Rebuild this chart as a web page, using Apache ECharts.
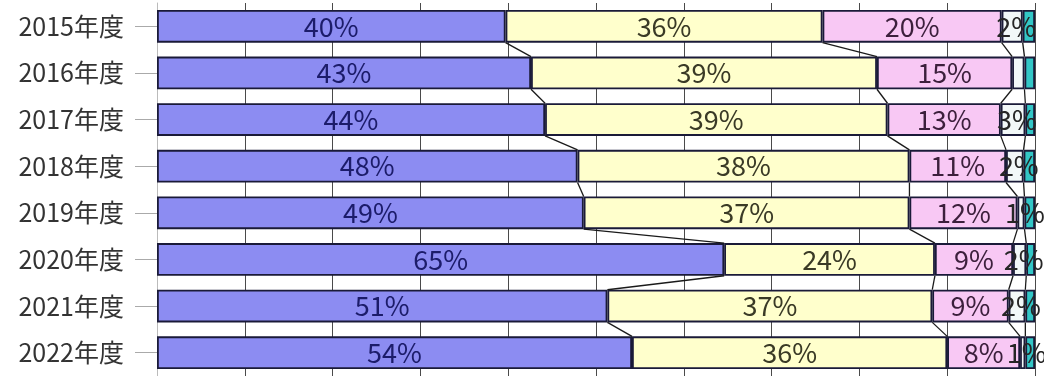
<!DOCTYPE html>
<html><head><meta charset="utf-8">
<script src="https://cdn.jsdelivr.net/npm/echarts@6/dist/echarts.min.js"></script>
<style>html,body{margin:0;padding:0;background:#fff}#c{width:1044px;height:376px}</style>
</head><body><div id="c"></div>
<script>
const categories = ['2015年度','2016年度','2017年度','2018年度','2019年度','2020年度','2021年度','2022年度'];
const blue   = [39.7, 42.6, 44.2, 47.9, 48.6, 64.6, 51.3, 54.1];
const yellow = [36.1, 39.4, 39.0, 37.8, 37.1, 24.0, 37.0, 35.9];
const pink   = [20.4, 15.4, 12.9, 11.0, 12.3,  8.9,  8.7,  8.3];
const white  = [ 2.4,  1.4,  2.8,  2.0,  0.8,  1.5,  1.9,  0.6];
const teal   = [ 1.4,  1.2,  1.1,  1.3,  1.2,  1.0,  1.1,  1.1];
const whiteLabelShown = [true, false, true, true, true, true, true, true];
const xTicks = [0,10,20,30,40,50,60,70,80,90,100];

const segs = [blue, yellow, pink, white];
const FONT = '"Noto Sans CJK JP","Noto Sans",sans-serif';
const BAR_RATIO = 0.70;

function lbl(color, show) {
  return {show: show, position: 'inside', fontSize: 27, fontFamily: FONT, color: color,
    formatter: p => Math.round(p.value) + '%'};
}
const border = {borderColor: '#1a1a38', borderWidth: 1.8};

function cum(row, k) { let s = 0; for (let j = 0; j <= k; j++) s += segs[j][row]; return s; }

const chart = echarts.init(document.getElementById('c'), null, {renderer: 'canvas'});
chart.setOption({
  animation: false,
  backgroundColor: '#ffffff',
  grid: {left: 157, top: 3, width: 878, height: 379},
  xAxis: {type: 'value', min: 0, max: 100, interval: 10,
    axisLabel: {show: false}, axisLine: {show: false}, axisTick: {show: false},
    splitLine: {show: true, lineStyle: {color: '#4a4a4a', width: 1}}},
  yAxis: {type: 'category', data: categories, inverse: true,
    axisLine: {show: true, lineStyle: {color: '#bbbbbb'}},
    axisTick: {show: true, alignWithLabel: true, length: 22, lineStyle: {color: '#aaaaaa'}},
    axisLabel: {fontSize: 25, fontFamily: FONT, color: '#333333', margin: 33}},
  series: [
    {type: 'bar', stack: 't', data: blue, barCategoryGap: '30%',
      itemStyle: Object.assign({color: '#8c8cf2'}, border), label: lbl('#1c1c6a', true)},
    {type: 'bar', stack: 't', data: yellow,
      itemStyle: Object.assign({color: '#ffffcc'}, border), label: lbl('#3a3a26', true)},
    {type: 'bar', stack: 't', data: pink,
      itemStyle: Object.assign({color: '#f8c8f4'}, border), label: lbl('#3c1f3c', true)},
    {type: 'bar', stack: 't',
      data: white.map((v, i) => ({value: v, label: {show: whiteLabelShown[i]}})),
      itemStyle: Object.assign({color: '#f2f8f8'}, border),
      label: Object.assign(lbl('#262626', true), {offset: [4, 0]})},
    {type: 'bar', stack: 't', data: teal, z: 1,
      itemStyle: Object.assign({color: '#33c6c6'}, border), label: {show: false}},
    {type: 'custom', z: 5, silent: true,
      data: categories.slice(0, categories.length - 1).map((c, i) => [0, i]),
      encode: {x: 0, y: 1},
      renderItem: function (params, api) {
        const i = params.dataIndex;
        const band = api.size([0, 1])[1];
        const half = band * BAR_RATIO / 2;
        const children = [];
        for (let k = 0; k < segs.length; k++) {
          const a = api.coord([cum(i, k), i]);
          const b = api.coord([cum(i + 1, k), i + 1]);
          children.push({type: 'line', shape: {x1: a[0], y1: a[1] + half, x2: b[0], y2: b[1] - half},
            style: {stroke: '#1a1a1a', lineWidth: 1.3}});
        }
        return {type: 'group', children: children};
      }}
  ]
});
</script></body></html>
